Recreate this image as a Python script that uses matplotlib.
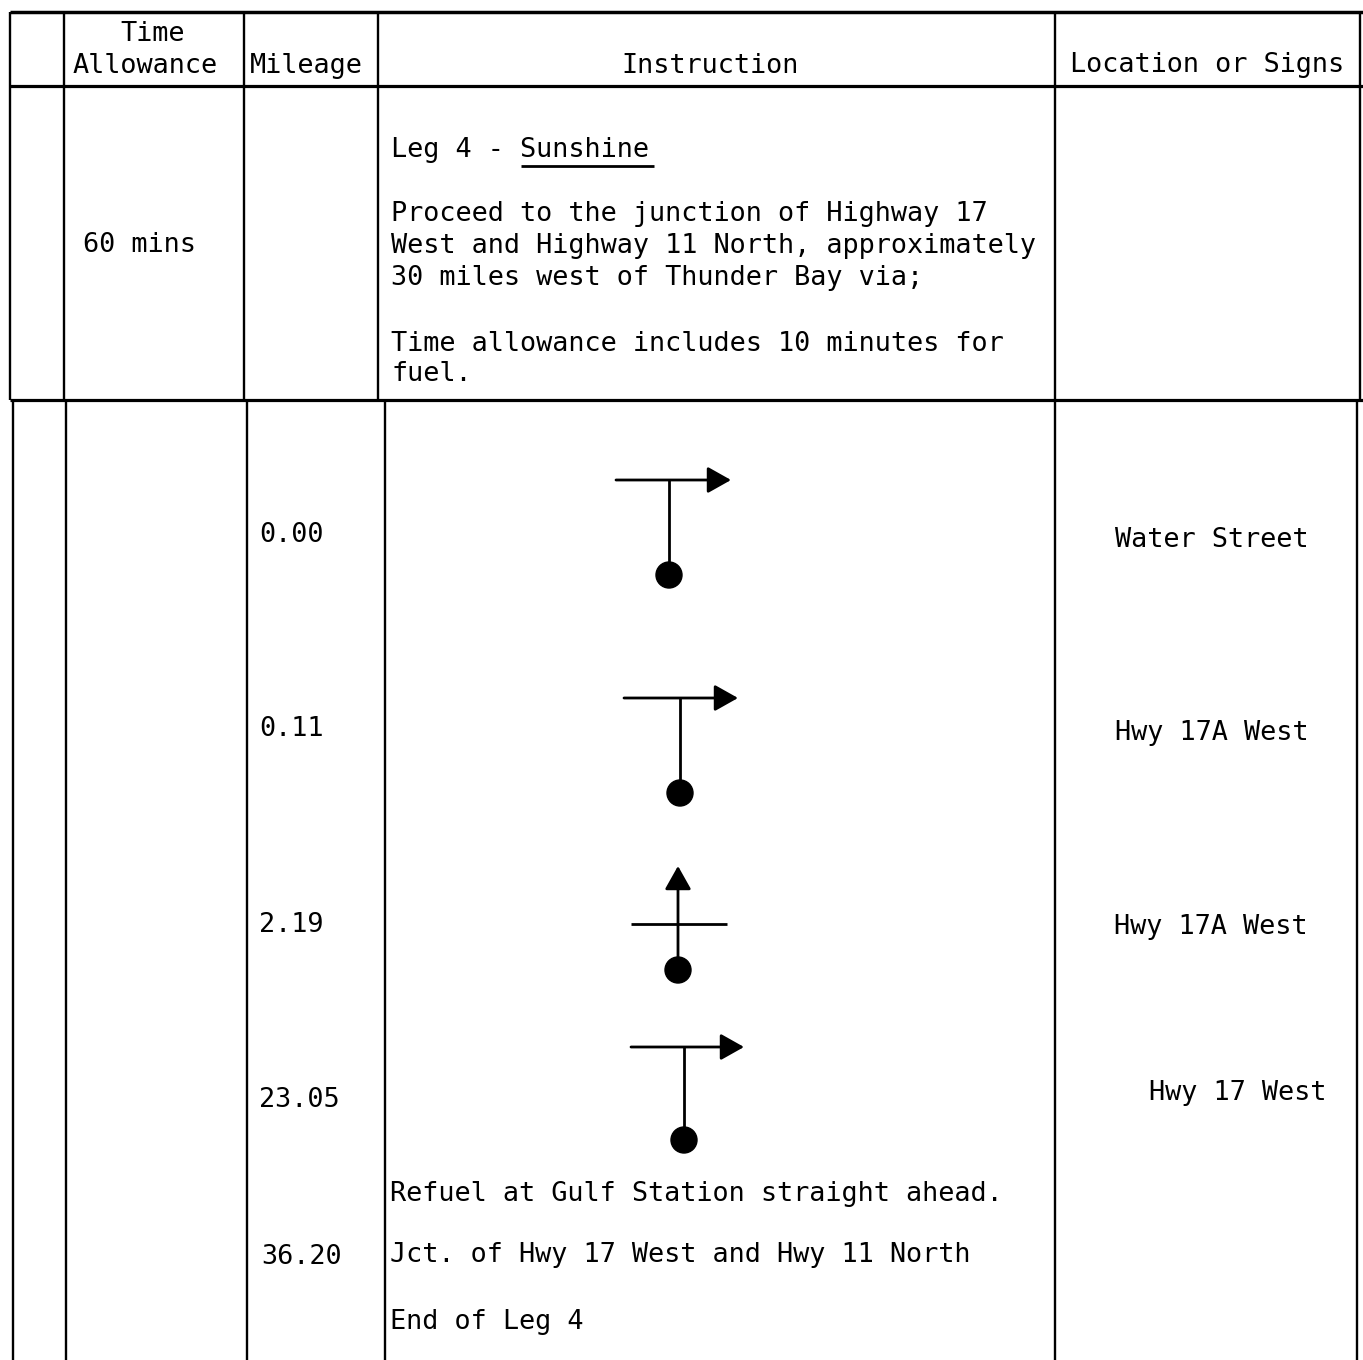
import matplotlib
matplotlib.use("Agg")
import matplotlib.pyplot as plt
from matplotlib.patches import Circle

# ---------------- data ----------------
header_time = ["Time", "Allowance"]
header_mileage = "Mileage"
header_instruction = "Instruction"
header_location = "Location or Signs"

leg_title_prefix = "Leg 4 - "
leg_title_name = "Sunshine"
leg_paragraph = ["Proceed to the junction of Highway 17",
                 "West and Highway 11 North, approximately",
                 "30 miles west of Thunder Bay via;"]
leg_note = ["Time allowance includes 10 minutes for",
            "fuel."]
time_allowance = "60 mins"

mileages = ["0.00", "0.11", "2.19", "23.05"]
locations = ["Water Street", "Hwy 17A West", "Hwy 17A West", "Hwy 17 West"]
maneuvers = ["right", "right", "straight", "right"]

final_mileage = "36.20"
final_lines = ["Refuel at Gulf Station straight ahead.",
               "Jct. of Hwy 17 West and Hwy 11 North",
               "End of Leg 4"]

# ---------------- figure ----------------
W, H = 1363, 1360
fig = plt.figure(figsize=(W / 100, H / 100), dpi=100)
ax = fig.add_axes([0, 0, 1, 1])
ax.set_xlim(0, W)
ax.set_ylim(H, 0)
ax.axis("off")

FONT = "DejaVu Sans Mono"
FS = 19.4
K = "black"
DY = 2


def line(x0, y0, x1, y1, lw=1.7):
    ax.plot([x0, x1], [y0, y1], color=K, lw=lw, solid_capstyle="butt")


def txt(x, y, s, ha="left", fs=FS):
    ax.text(x, y + DY, s, ha=ha, va="center", fontsize=fs, family=FONT, color=K)


# table grid
line(10, 12, 1363, 12, lw=2.5)
line(10, 86, 1363, 86, lw=2.3)
line(10, 400, 1363, 400, lw=2.3)
# upper verticals
for x in [10, 64, 244, 378, 1055, 1360]:
    line(x, 12, x, 400)
# lower verticals
for x in [13, 66, 247, 385, 1055, 1357]:
    line(x, 400, x, 1360)

# headers
txt(153, 32, header_time[0], ha="center")
txt(145, 64, header_time[1], ha="center")
txt(306, 64, header_mileage, ha="center")
txt(710, 64, header_instruction, ha="center")
txt(1207, 63, header_location, ha="center")

# upper section
txt(139, 243, time_allowance, ha="center")
txt(391, 148, leg_title_prefix + leg_title_name)
line(521, 166, 654, 166, lw=2.0)
for i, s in enumerate(leg_paragraph):
    txt(391, 212 + 32 * i, s)
for i, s in enumerate(leg_note):
    txt(391, 342 + 30 * i, s)

# lower rows
row_y = [533, 727, 923, 1098]
loc_y = [538, 731, 925, 1091]
loc_x = [1212, 1212, 1211, 1238]
diag = [  # (stem x, bar y, bar x0, bar x1, dot y)
    (669, 480, 616, 731, 575),
    (680, 698, 624, 738, 793),
    (678, 924, 631, 727, 970),
    (684, 1047, 631, 744, 1140),
]
AST = "-|>,head_length=0.8,head_width=0.45"
for i, (m, loc, man) in enumerate(zip(mileages, locations, maneuvers)):
    txt(259, row_y[i], m)
    txt(loc_x[i], loc_y[i], loc, ha="center")
    sx, by, bx0, bx1, dy = diag[i]
    if man == "right":
        ax.annotate("", xy=(bx1, by), xytext=(bx0, by),
                    arrowprops=dict(arrowstyle=AST, lw=2.0, color=K,
                                    shrinkA=0, shrinkB=0, mutation_scale=18))
        line(sx, by, sx, dy, lw=2.0)
    else:
        line(bx0, by, bx1, by, lw=2.0)
        ax.annotate("", xy=(sx, by - 58), xytext=(sx, dy),
                    arrowprops=dict(arrowstyle=AST, lw=2.0, color=K,
                                    shrinkA=0, shrinkB=0, mutation_scale=18))
    ax.add_patch(Circle((sx, dy), 13, color=K))

# final
txt(261, 1255, final_mileage)
for s, y in zip(final_lines, [1192, 1253, 1320]):
    txt(390, y, s)

fig.savefig("out.png", dpi=100)
